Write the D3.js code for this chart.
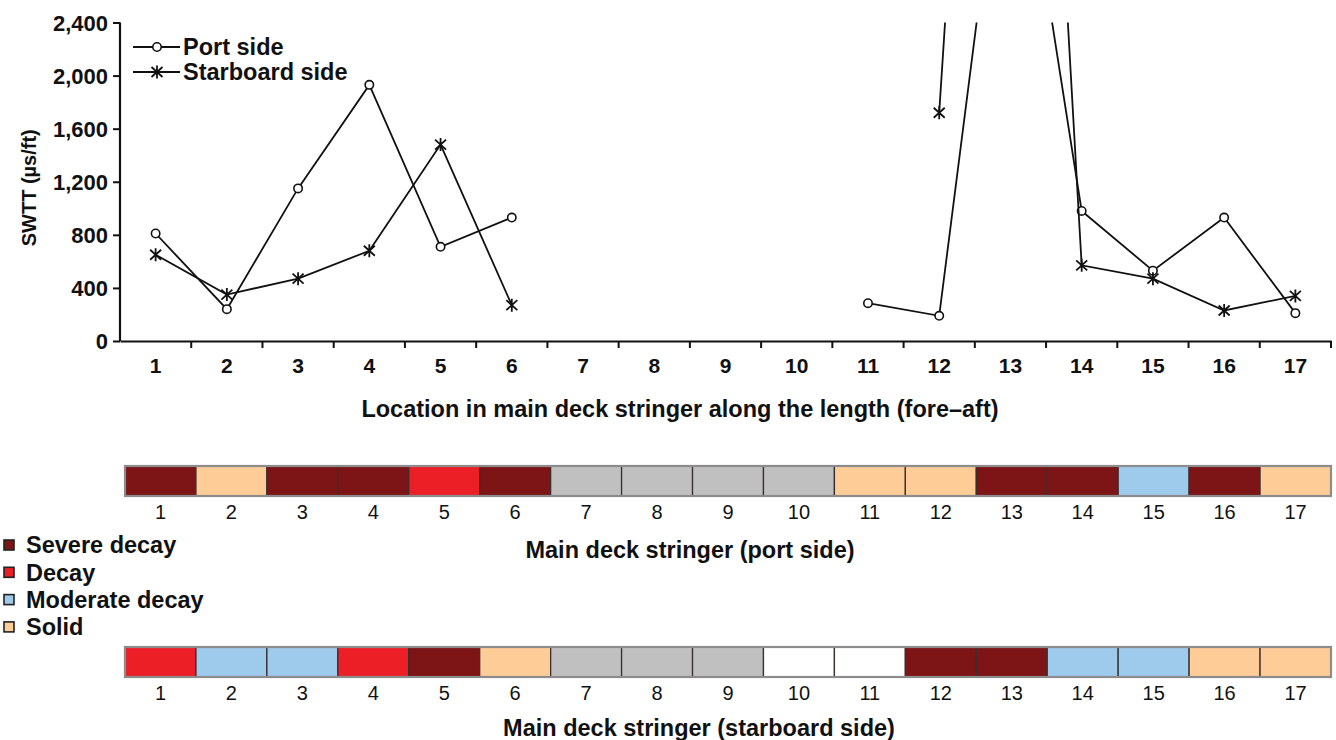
<!DOCTYPE html>
<html>
<head>
<meta charset="utf-8">
<script src="https://cdn.jsdelivr.net/npm/d3@7"></script>
<style>
  body { margin: 0; background: #fff; }
  svg text { font-family: "Liberation Sans", Arial, sans-serif; fill: #111; }
</style>
</head>
<body>
<svg id="chart" width="1336" height="740"></svg>
<script>
// locations along the deck stringer
const locations = d3.range(1, 18);

// SWTT readings (µs/ft), null = not measured
const portSide = [810, 240, 1150, 1930, 710, 930, null, null, null, null, 285, 190, 4400, 980, 530, 930, 210];
const starboardSide = [650, 350, 470, 680, 1480, 270, null, null, null, null, null, 1720, 10000, 570, 470, 230, 340];

const yTicks = [0, 400, 800, 1200, 1600, 2000, 2400];

// decay class per location
const portCondition = ['severe', 'solid', 'severe', 'severe', 'decay', 'severe', 'na', 'na', 'na', 'na',
                       'solid', 'solid', 'severe', 'severe', 'moderate', 'severe', 'solid'];
const starboardCondition = ['decay', 'moderate', 'moderate', 'decay', 'severe', 'solid', 'na', 'na', 'na', 'blank',
                            'blank', 'severe', 'severe', 'moderate', 'moderate', 'solid', 'solid'];

const conditionKeys = ['severe', 'decay', 'moderate', 'solid', 'na', 'blank'];
const conditionLabels = ['Severe decay', 'Decay', 'Moderate decay', 'Solid'];
const conditionColors = ['#7d1416', '#ec1f26', '#9ecaec', '#fdcc97', '#c0c0c0', '#ffffff'];

const svg = d3.select('#chart');
const color = d3.scaleOrdinal().domain(conditionKeys).range(conditionColors);

// ---- line chart ----
const x = d3.scaleBand().domain(locations).range([120, 1331]).padding(0);
const y = d3.scaleLinear().domain([0, 2400]).range([341, 22.5]);

svg.append('defs').append('clipPath').attr('id', 'plot-clip')
    .append('rect')
    .attr('x', x.range()[0]).attr('y', y(2400))
    .attr('width', x.range()[1] - x.range()[0]).attr('height', y(0) - y(2400));

const yAxis = svg.append('g')
    .attr('transform', `translate(${x.range()[0]},0)`)
    .call(d3.axisLeft(y).tickValues(yTicks).tickSize(7).tickPadding(5).tickFormat(d3.format(',')));
yAxis.select('.domain').attr('stroke', '#111').attr('stroke-width', 2.2).attr('d', `M0,${y(2400)}V${y(0)}`);
yAxis.selectAll('.tick line').attr('stroke', '#111').attr('stroke-width', 2);
yAxis.selectAll('.tick text')
    .style('font-size', '22px').style('font-weight', 'bold').attr('dy', '0.36em');

const xAxis = svg.append('g')
    .attr('transform', `translate(0,${y(0)})`)
    .call(d3.axisBottom(x).tickSize(0).tickPadding(17));
xAxis.select('.domain').attr('stroke', '#111').attr('stroke-width', 2.2);
xAxis.selectAll('.tick text').style('font-size', '21px').style('font-weight', 'bold');
// ticks on the band boundaries
xAxis.selectAll('.bound')
    .data(locations)
    .enter().append('line')
    .attr('x1', d => x(d) + x.bandwidth()).attr('x2', d => x(d) + x.bandwidth())
    .attr('y1', 0).attr('y2', 7)
    .attr('stroke', '#111').attr('stroke-width', 2);

svg.append('text')
    .attr('x', 680).attr('y', 417)
    .attr('text-anchor', 'middle')
    .style('font-size', '23.5px').style('font-weight', 'bold')
    .text('Location in main deck stringer along the length (fore–aft)');

svg.append('text')
    .attr('transform', `translate(36,${(y(0) + y(2400)) / 2 + 6}) rotate(-90)`)
    .attr('text-anchor', 'middle')
    .style('font-size', '20px').style('font-weight', 'bold')
    .text('SWTT (µs/ft)');

const cx = d => x(d) + x.bandwidth() / 2;
const line = d3.line()
    .defined(d => d.v !== null)
    .x(d => cx(d.loc))
    .y(d => y(d.v));

const series = [
    { name: 'Port side', values: portSide, marker: 'circle' },
    { name: 'Starboard side', values: starboardSide, marker: 'star' }
];

function drawMarker(g, type) {
    if (type === 'circle') {
        g.append('circle').attr('r', 4.2)
            .attr('fill', '#fff').attr('stroke', '#111').attr('stroke-width', 1.6);
    } else {
        g.append('path').attr('d', 'M-5.5,-5L5.5,5M-5.5,5L5.5,-5M0,-6.5V6.5')
            .attr('fill', 'none').attr('stroke', '#111').attr('stroke-width', 1.8);
    }
}

const plot = svg.append('g').attr('clip-path', 'url(#plot-clip)');
series.forEach(s => {
    const pts = locations.map((loc, i) => ({ loc, v: s.values[i] }));
    plot.append('path')
        .datum(pts)
        .attr('d', line)
        .attr('fill', 'none').attr('stroke', '#111').attr('stroke-width', 1.8);
    plot.selectAll(null)
        .data(pts.filter(p => p.v !== null && p.v <= 2400))
        .enter().append('g')
        .attr('transform', p => `translate(${cx(p.loc)},${y(p.v)})`)
        .each(function () { drawMarker(d3.select(this), s.marker); });
});

// line legend
series.forEach((s, i) => {
    const g = svg.append('g').attr('transform', `translate(133,${47 + i * 25})`);
    g.append('line').attr('x1', 0).attr('x2', 47)
        .attr('stroke', '#111').attr('stroke-width', 1.8);
    const m = g.append('g').attr('transform', 'translate(24,0)');
    drawMarker(m, s.marker);
    g.append('text').attr('x', 50).attr('dy', '0.36em')
        .style('font-size', '23.5px').style('font-weight', 'bold')
        .text(s.name);
});

// ---- condition strips ----
const xs = d3.scaleBand().domain(locations).range([125, 1331]).padding(0);

function drawStrip(top, conds, title, titleX, titleY) {
    const g = svg.append('g');
    g.selectAll('rect.cell')
        .data(locations)
        .enter().append('rect')
        .attr('x', d => xs(d)).attr('y', top)
        .attr('width', xs.bandwidth()).attr('height', 30)
        .attr('fill', (d, i) => color(conds[i]))
        .attr('stroke', '#3a3030').attr('stroke-width', 1.3);
    g.append('rect')
        .attr('x', xs.range()[0]).attr('y', top)
        .attr('width', xs.range()[1] - xs.range()[0]).attr('height', 30)
        .attr('fill', 'none').attr('stroke', '#8c8c8c').attr('stroke-width', 2.2);
    g.selectAll('text.num')
        .data(locations)
        .enter().append('text')
        .attr('x', d => xs(d) + xs.bandwidth() / 2).attr('y', top + 53)
        .attr('text-anchor', 'middle')
        .style('font-size', '20px')
        .text(d => d);
    g.append('text')
        .attr('x', titleX).attr('y', titleY)
        .attr('text-anchor', 'middle')
        .style('font-size', '23.5px').style('font-weight', 'bold')
        .text(title);
}

drawStrip(466, portCondition, 'Main deck stringer (port side)', 690, 558);
drawStrip(647, starboardCondition, 'Main deck stringer (starboard side)', 699, 736);

// condition legend
const leg = svg.append('g');
conditionLabels.forEach((lab, i) => {
    const yy = 545 + i * 27.3;
    leg.append('rect')
        .attr('x', 4).attr('y', yy - 5).attr('width', 10).attr('height', 10)
        .attr('fill', conditionColors[i]).attr('stroke', '#222').attr('stroke-width', 1.6);
    leg.append('text').attr('x', 26).attr('y', yy).attr('dy', '0.36em')
        .style('font-size', '23.5px').style('font-weight', 'bold')
        .text(lab);
});
</script>
</body>
</html>
